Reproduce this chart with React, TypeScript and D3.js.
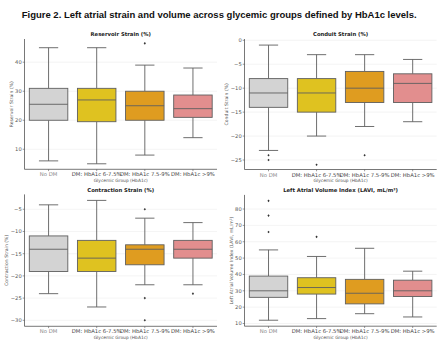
import React from "react";
import * as d3 from "d3";

const groups = ["No DM", "DM: HbA1c 6-7.5%", "DM: HbA1c 7.5-9%", "DM: HbA1c >9%"];
const colors = ["#d3d3d3", "#dfc220", "#df9c20", "#e28e8e"];

// [whisker low, q1, median, q3, whisker high]
const reservoirBox = [[6, 20, 25.5, 31, 45], [5, 19.5, 27, 31, 45], [8, 20, 25, 30, 39], [14, 21, 24, 28.7, 38]];
const reservoirOut = [[], [], [46.5], []];
const reservoirTicks = [10, 20, 30, 40];

const conduitBox = [[-23, -14, -11, -8, -1], [-20, -15, -11, -8, -3], [-18, -13, -10, -6.5, -3], [-17, -13, -9, -7, -4]];
const conduitOut = [[-24, -25], [-26], [-24], []];
const conduitTicks = [0, -5, -10, -15, -20, -25];

const contractionBox = [[-24, -19, -14, -11, -4], [-27, -19, -16, -12, -3], [-22, -17.5, -14, -13, -7], [-22, -16, -14, -12, -8]];
const contractionOut = [[], [], [-5, -25, -30], [-24]];
const contractionTicks = [-5, -10, -15, -20, -25, -30];

const laviBox = [[12, 26, 30, 39, 55], [13, 28, 32, 38, 51], [16, 22, 28.5, 37, 56], [14, 26.5, 30, 36.5, 42]];
const laviOut = [[85, 76, 66], [63], [], []];
const laviTicks = [10, 20, 30, 40, 50, 60, 70, 80];

const figTitle = "Figure 2. Left atrial strain and volume across glycemic groups defined by HbA1c levels.";
const xLabel = "Glycemic Group (HbA1c)";

const FONT = "DejaVu Sans, sans-serif";
const fmt = (v: number) => (v < 0 ? "\u2212" + Math.abs(v) : String(v));

type PanelProps = {
  title: string; yLabel: string; box: number[][]; out: number[][]; ticks: number[];
  left: number; right: number; top: number; bottom: number; domain: [number, number]; yLabelX: number;
};

function Panel(p: PanelProps) {
  const x = d3.scaleBand<string>().domain(groups).range([p.left, p.right]).paddingInner(0.2).paddingOuter(0.1);
  const y = d3.scaleLinear().domain(p.domain).range([p.bottom, p.top]);
  const bw = x.bandwidth();
  const cx = (g: string) => (x(g) as number) + bw / 2;
  const lineC = "#5f5f5f";
  const midY = (p.top + p.bottom) / 2;
  return (
    <g>
      {p.ticks.map((t) => (
        <line key={"g" + t} x1={p.left} x2={p.right} y1={y(t)} y2={y(t)} stroke="#ececec" strokeWidth={0.6} />
      ))}
      {groups.map((g, i) => {
        const [lo, q1, med, q3, hi] = p.box[i];
        const c = cx(g);
        return (
          <g key={g}>
            <line x1={c} x2={c} y1={y(q1)} y2={y(lo)} stroke={lineC} strokeWidth={0.9} />
            <line x1={c} x2={c} y1={y(q3)} y2={y(hi)} stroke={lineC} strokeWidth={0.9} />
            <line x1={c - bw / 4} x2={c + bw / 4} y1={y(lo)} y2={y(lo)} stroke={lineC} strokeWidth={0.9} />
            <line x1={c - bw / 4} x2={c + bw / 4} y1={y(hi)} y2={y(hi)} stroke={lineC} strokeWidth={0.9} />
            <rect x={x(g)} y={y(q3)} width={bw} height={y(q1) - y(q3)} fill={colors[i]} stroke={lineC} strokeWidth={0.9} />
            <line x1={x(g)} x2={(x(g) as number) + bw} y1={y(med)} y2={y(med)} stroke={lineC} strokeWidth={0.9} />
            {p.out[i].map((o, k) => (
              <path key={k} d={`M${c},${y(o) - 1.3}L${c + 1.1},${y(o)}L${c},${y(o) + 1.3}L${c - 1.1},${y(o)}Z`} fill="#333" />
            ))}
          </g>
        );
      })}
      <line x1={p.left} x2={p.left} y1={p.top} y2={p.bottom} stroke="#555" strokeWidth={0.8} />
      <line x1={p.left} x2={p.right} y1={p.bottom} y2={p.bottom} stroke="#555" strokeWidth={0.8} />
      {p.ticks.map((t) => (
        <g key={"t" + t}>
          <line x1={p.left - 1.8} x2={p.left} y1={y(t)} y2={y(t)} stroke="#555" strokeWidth={0.6} />
          <text x={p.left - 2.8} y={y(t)} dy="0.35em" textAnchor="end" fontSize={5.2} fill="#555" fontFamily={FONT}>{fmt(t)}</text>
        </g>
      ))}
      {groups.map((g) => (
        <g key={"x" + g}>
          <line x1={cx(g)} x2={cx(g)} y1={p.bottom} y2={p.bottom + 1.8} stroke="#555" strokeWidth={0.6} />
          <text x={cx(g)} y={p.bottom + 7} textAnchor="middle" fontSize={5.3} fill={g === "No DM" ? "#888" : "#444"} fontFamily={FONT}>{g}</text>
        </g>
      ))}
      <text x={(p.left + p.right) / 2} y={p.bottom + 12.5} textAnchor="middle" fontSize={4.4} fill="#555" fontFamily={FONT}>{xLabel}</text>
      <text x={(p.left + p.right) / 2} y={p.top - 2.7} textAnchor="middle" fontSize={5.3} fontWeight="bold" fill="#222" fontFamily={FONT}>{p.title}</text>
      <text transform={`translate(${p.yLabelX},${midY}) rotate(-90)`} textAnchor="middle" dy="0.35em" fontSize={4.6} fill="#555" fontFamily={FONT}>{p.yLabel}</text>
    </g>
  );
}

export default function App() {
  return (
    <svg width={440} height={344} style={{ position: "absolute", left: 0, top: 0, background: "#fff" }}>
      <rect width={440} height={344} fill="#fff" />
      <text x={21.7} y={18} fontSize={8.4} fontWeight="bold" fill="#111" fontFamily="Liberation Sans, Arial, sans-serif" textLength={395} lengthAdjust="spacingAndGlyphs">{figTitle}</text>
      <Panel title="Reservoir Strain (%)" yLabel="Reservoir Strain (%)" box={reservoirBox} out={reservoirOut} ticks={reservoirTicks}
        left={24.5} right={217} top={39} bottom={169.3} domain={[3.1, 48.0]} yLabelX={11.7} />
      <Panel title="Conduit Strain (%)" yLabel="Conduit Strain (%)" box={conduitBox} out={conduitOut} ticks={conduitTicks}
        left={244.5} right={436.7} top={39} bottom={169.5} domain={[-26.98, 0.27]} yLabelX={226} />
      <Panel title="Contraction Strain (%)" yLabel="Contraction Strain (%)" box={contractionBox} out={contractionOut} ticks={contractionTicks}
        left={24.5} right={217} top={194.4} bottom={326.3} domain={[-31.35, -1.65]} yLabelX={6.7} />
      <Panel title="Left Atrial Volume Index (LAVI, mL/m²)" yLabel="Left Atrial Volume Index (LAVI, mL/m²)" box={laviBox} out={laviOut} ticks={laviTicks}
        left={244.5} right={436.7} top={194.9} bottom={326.2} domain={[8.35, 88.65]} yLabelX={231} />
    </svg>
  );
}
